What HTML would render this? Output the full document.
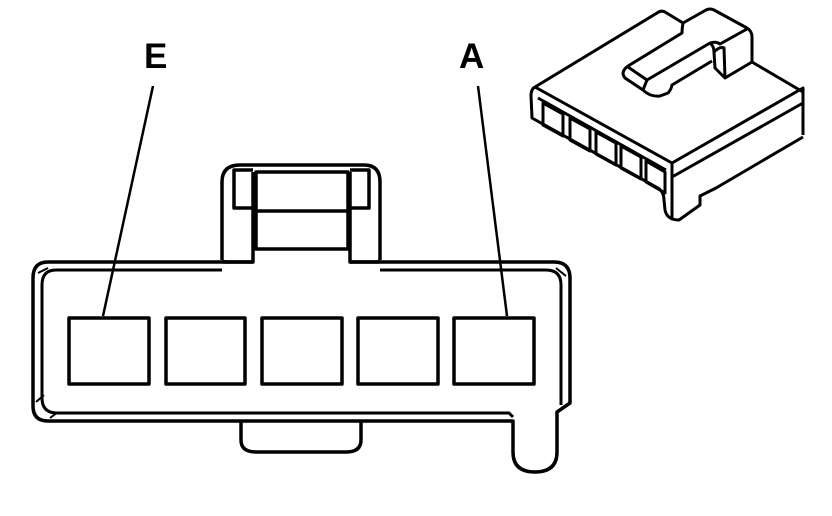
<!DOCTYPE html>
<html><head><meta charset="utf-8"><style>
html,body{margin:0;padding:0;background:#fff;}
svg{display:block;}
text{font-family:"Liberation Sans",sans-serif;font-weight:bold;font-size:35px;}
</style></head><body>
<svg width="832" height="516" viewBox="0 0 832 516" xmlns="http://www.w3.org/2000/svg">
<rect width="832" height="516" fill="#fff"/>
<g fill="none" stroke="#000" stroke-width="3.5" stroke-linejoin="round">
<line x1="153" y1="86" x2="103" y2="316" stroke-width="2.5"/>
<line x1="478" y1="86" x2="507" y2="316" stroke-width="2.5"/>
<path d="M222,260 L222,182 Q222,165 240,165 L364,165 Q380,165 380,182 L380,260" fill="#fff"/>
<path d="M253,170 L234,170 L234,208 L253,208"/>
<path d="M350,170 L369,170 L369,208 L350,208"/>
<rect x="256" y="172" width="92" height="77"/>
<line x1="256" y1="211" x2="348" y2="211"/>
<rect x="226" y="249" width="27" height="12" stroke="none" fill="#fff"/>
<rect x="350" y="249" width="27" height="12" stroke="none" fill="#fff"/>
<path d="M224,260 L224,262 L253,262 L253,172"/>
<path d="M378,260 L378,262 L350,262 L350,172"/>
<path d="M241,420 L241,440 Q241,452 256,452 L346,452 Q361,452 361,440 L361,420"/>
<path d="M253,262 L48,262 Q33,262 33,278 L33,406 Q33,421 48,421 L513,421 L513,452 Q513,472 535,472 Q557,472 557,452 L557,412 L570,403 L570,278 Q570,262 554,262 L350,262" fill="none"/>
<path d="M222,270 L56,270 Q42,270 42,285 L42,398 Q42,413 57,413 L509,413 L513,417" stroke-width="3"/>
<path d="M380,270 L546,270 Q561,270 561,285 L561,405" stroke-width="3"/>
<line x1="38" y1="273" x2="48" y2="268" stroke-width="2"/>
<line x1="556" y1="268" x2="566" y2="276" stroke-width="2"/>
<line x1="36" y1="402" x2="44" y2="395" stroke-width="2"/>
<line x1="50" y1="418" x2="58" y2="412" stroke-width="2"/>
<rect x="69" y="318" width="80" height="66"/>
<rect x="166" y="318" width="79" height="66"/>
<rect x="262" y="318" width="80" height="66"/>
<rect x="358" y="318" width="80" height="66"/>
<rect x="454" y="318" width="80" height="66"/>
</g>
<text x="144" y="68">E</text>
<text x="459" y="68">A</text>
<g fill="none" stroke="#000" stroke-width="3" stroke-linejoin="round">
<!-- top face back edge and latch -->
<path d="M535,87 L657,13 Q661,10 665,12 L683,23 L706,10 Q710,8 714,10 L747,28 Q752,31 752,37 L752,62 L803,92"/>
<path d="M683,23 Q682,28 682,33 L628,66 Q620,72 625,78 L643,90 Q650,97 660,96 L668,93 Q671,90 672,85 L712,61"/>
<path d="M628,67 L647,80 L643,90"/>
<path d="M647,80 L710,43 Q716,41 720,44 L747,29"/>
<path d="M710,43 Q714,46 714,52 L715,68 L725,78 L752,62"/>
<path d="M714,52 Q720,46 724,48 L725,78"/>
<!-- front face -->
<path d="M535,87 L672,163 L803,88 L803,135"/>
<path d="M535,87 Q531,89 531,96 L532,118 L658,188 Q664,192 664,200 L665,210 Q667,220 679,220 L700,205 L700,196 L716,188 L803,137"/>
<path d="M672,163 L672,220"/>
<path d="M672,177 L803,103"/>
<path d="M538,98 L666,170"/>
<path d="M543,103 L563,114 L563,136 L543,125 Z"/>
<path d="M570,118 L590,129 L590,151 L570,140 Z"/>
<path d="M596,132 L616,143 L616,165 L596,154 Z"/>
<path d="M621,146 L641,157 L641,179 L621,168 Z"/>
<path d="M646,161 L665,172 L665,193 L646,182 Z"/>
</g>
</svg>
</body></html>
